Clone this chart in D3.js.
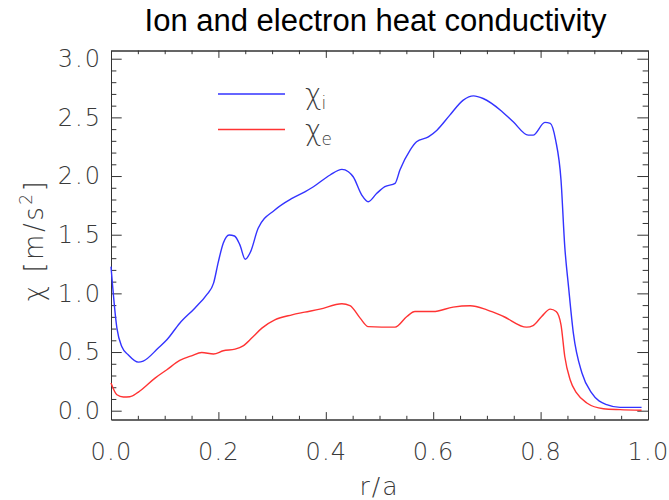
<!DOCTYPE html>
<html>
<head>
<meta charset="utf-8">
<script src="https://cdn.jsdelivr.net/npm/d3@7"></script>
<style>
  body { margin: 0; background: #fff; }
  svg { display: block; }
</style>
</head>
<body>
<div id="chart"></div>
<script>
// chi_i (ion)
const ionX = [0.000, 0.011, 0.020, 0.032, 0.051, 0.060, 0.088, 0.104, 0.128, 0.156, 0.178, 0.191, 0.200, 0.209, 0.220, 0.230, 0.240, 0.250, 0.260, 0.274, 0.305, 0.337, 0.361, 0.377, 0.408, 0.430, 0.442, 0.451, 0.467, 0.479, 0.495, 0.510, 0.529, 0.538, 0.557, 0.569, 0.591, 0.607, 0.631, 0.656, 0.675, 0.693, 0.727, 0.749, 0.777, 0.786, 0.808, 0.818, 0.828, 0.838, 0.845, 0.852, 0.861, 0.877, 0.895, 0.923, 0.948, 0.988];
const ionY = [1.228, 0.704, 0.547, 0.477, 0.414, 0.423, 0.534, 0.604, 0.746, 0.874, 0.987, 1.087, 1.271, 1.427, 1.498, 1.489, 1.413, 1.291, 1.356, 1.555, 1.711, 1.810, 1.866, 1.909, 2.009, 2.057, 2.037, 1.994, 1.838, 1.781, 1.853, 1.909, 1.938, 2.051, 2.221, 2.292, 2.334, 2.391, 2.519, 2.647, 2.683, 2.661, 2.555, 2.462, 2.349, 2.349, 2.457, 2.449, 2.306, 1.966, 1.398, 1.058, 0.661, 0.321, 0.151, 0.051, 0.028, 0.028];

// chi_e (electron)
const elecX = [0.000, 0.011, 0.023, 0.035, 0.051, 0.082, 0.104, 0.128, 0.150, 0.169, 0.191, 0.209, 0.231, 0.246, 0.262, 0.281, 0.305, 0.337, 0.361, 0.389, 0.430, 0.445, 0.464, 0.479, 0.529, 0.551, 0.566, 0.600, 0.637, 0.669, 0.700, 0.731, 0.774, 0.786, 0.802, 0.818, 0.829, 0.838, 0.845, 0.855, 0.867, 0.886, 0.917, 0.948, 0.988];
const elecY = [0.236, 0.136, 0.117, 0.119, 0.159, 0.278, 0.349, 0.428, 0.468, 0.496, 0.483, 0.511, 0.525, 0.553, 0.619, 0.704, 0.774, 0.817, 0.840, 0.866, 0.911, 0.896, 0.789, 0.717, 0.712, 0.803, 0.845, 0.845, 0.883, 0.894, 0.860, 0.803, 0.712, 0.726, 0.803, 0.866, 0.845, 0.732, 0.462, 0.264, 0.151, 0.066, 0.017, 0.009, 0.004];

const xMajor = [0, 0.2, 0.4, 0.6, 0.8, 1.0];
const yMajor = [0, 0.5, 1.0, 1.5, 2.0, 2.5, 3.0];

const W = 669, H = 500;
const m = { left: 111, right: 648, top: 50.5, bottom: 419.5 };

const svg = d3.select('#chart').append('svg')
  .attr('width', W)
  .attr('height', H);

const x = d3.scaleLinear().domain([0, 1]).range([m.left, m.right]);
const y = d3.scaleLinear().domain([-0.075, 3.07]).range([m.bottom, m.top]);

const xMinor = d3.range(0, 1.0001, 0.05).filter(v => Math.abs(v * 5 - Math.round(v * 5)) > 1e-6);
const yMinor = d3.range(0, 3.0501, 0.1).filter(v => Math.abs(v * 2 - Math.round(v * 2)) > 1e-6);

const axisColor = '#333';
const tickFont = '"DejaVu Sans", sans-serif';

function styleAxis(g, spacing) {
  g.selectAll('path.domain').attr('stroke', axisColor).attr('stroke-width', 1);
  g.selectAll('.tick line').attr('stroke', axisColor).attr('stroke-width', 1);
  g.selectAll('.tick text')
    .attr('fill', '#3a3a3a')
    .style('font-family', tickFont)
    .style('font-weight', 200)
    .style('font-size', '24px')
    .style('letter-spacing', (spacing || 2) + 'px');
}

const xLen = 7.4, yLen = 10.7;

// bottom
svg.append('g').attr('transform', `translate(0,${m.bottom})`)
  .call(d3.axisBottom(x).tickValues(xMajor).tickFormat(d3.format('.1f'))
    .tickSizeInner(-xLen).tickSizeOuter(0).tickPadding(23.5))
  .call(styleAxis, 1.2);
svg.append('g').attr('transform', `translate(0,${m.bottom})`)
  .call(d3.axisBottom(x).tickValues(xMinor).tickFormat('')
    .tickSizeInner(-xLen / 2).tickSizeOuter(0))
  .call(styleAxis);
// top
svg.append('g').attr('transform', `translate(0,${m.top})`)
  .call(d3.axisTop(x).tickValues(xMajor).tickFormat('')
    .tickSizeInner(-xLen).tickSizeOuter(0))
  .call(styleAxis);
svg.append('g').attr('transform', `translate(0,${m.top})`)
  .call(d3.axisTop(x).tickValues(xMinor).tickFormat('')
    .tickSizeInner(-xLen / 2).tickSizeOuter(0))
  .call(styleAxis);
// left
svg.append('g').attr('transform', `translate(${m.left},0)`)
  .call(d3.axisLeft(y).tickValues(yMajor).tickFormat(d3.format('.1f'))
    .tickSizeInner(-yLen).tickSizeOuter(0).tickPadding(9))
  .call(styleAxis);
svg.append('g').attr('transform', `translate(${m.left},0)`)
  .call(d3.axisLeft(y).tickValues(yMinor).tickFormat('')
    .tickSizeInner(-yLen / 2).tickSizeOuter(0))
  .call(styleAxis);
// right
svg.append('g').attr('transform', `translate(${m.right},0)`)
  .call(d3.axisRight(y).tickValues(yMajor).tickFormat('')
    .tickSizeInner(-yLen).tickSizeOuter(0))
  .call(styleAxis);
svg.append('g').attr('transform', `translate(${m.right},0)`)
  .call(d3.axisRight(y).tickValues(yMinor).tickFormat('')
    .tickSizeInner(-yLen / 2).tickSizeOuter(0))
  .call(styleAxis);

// curves
const line = d3.line()
  .x(d => x(d[0]))
  .y(d => y(d[1]))
  .curve(d3.curveMonotoneX);

const ion = ionX.map((v, i) => [v, ionY[i]]);
const elec = elecX.map((v, i) => [v, elecY[i]]);

svg.append('path').datum(ion)
  .attr('d', line)
  .attr('fill', 'none')
  .attr('stroke', '#3333ff')
  .attr('stroke-width', 1.4);

svg.append('path').datum(elec)
  .attr('d', line)
  .attr('fill', 'none')
  .attr('stroke', '#ff3333')
  .attr('stroke-width', 1.4);

// title
svg.append('text')
  .attr('x', 375.5)
  .attr('y', 31)
  .attr('text-anchor', 'middle')
  .style('font-family', '"Liberation Sans", Arial, sans-serif')
  .style('font-size', '31px')
  .attr('fill', '#000')
  .text('Ion and electron heat conductivity');

// axis titles
svg.append('text')
  .attr('x', (m.left + m.right) / 2)
  .attr('y', 495)
  .attr('text-anchor', 'middle')
  .attr('fill', '#3a3a3a')
  .style('font-family', tickFont)
  .style('font-weight', 200)
  .style('font-size', '25px')
  .style('letter-spacing', '2px')
  .text('r/a');

const yTitle = svg.append('text')
  .attr('transform', 'translate(43,240) rotate(-90)')
  .attr('text-anchor', 'middle')
  .attr('fill', '#3a3a3a')
  .style('font-family', tickFont)
  .style('font-weight', 200)
  .style('font-size', '26px')
  .style('letter-spacing', '2.5px');
yTitle.append('tspan').text('χ   [m/s');
yTitle.append('tspan').attr('dy', -11).style('font-size', '17px').text('2');
yTitle.append('tspan').attr('dy', 11).text(']');

// legend
const legendItems = [
  { sym: 'χ', sub: 'i', color: '#3333ff', ly: 94 },
  { sym: 'χ', sub: 'e', color: '#ff3333', ly: 129.5 }
];
const legend = svg.append('g');
legendItems.forEach(item => {
  legend.append('line')
    .attr('x1', 218).attr('x2', 285)
    .attr('y1', item.ly).attr('y2', item.ly)
    .attr('stroke', item.color)
    .attr('stroke-width', 1.4);
  const t = legend.append('text')
    .attr('x', 305)
    .attr('y', item.ly + 10)
    .attr('fill', '#3a3a3a')
    .style('font-family', tickFont)
    .style('font-weight', 200)
    .style('font-size', '28px');
  t.append('tspan').text(item.sym);
  t.append('tspan').attr('dy', 5).style('font-size', '17px').text(item.sub);
});
</script>
</body>
</html>
